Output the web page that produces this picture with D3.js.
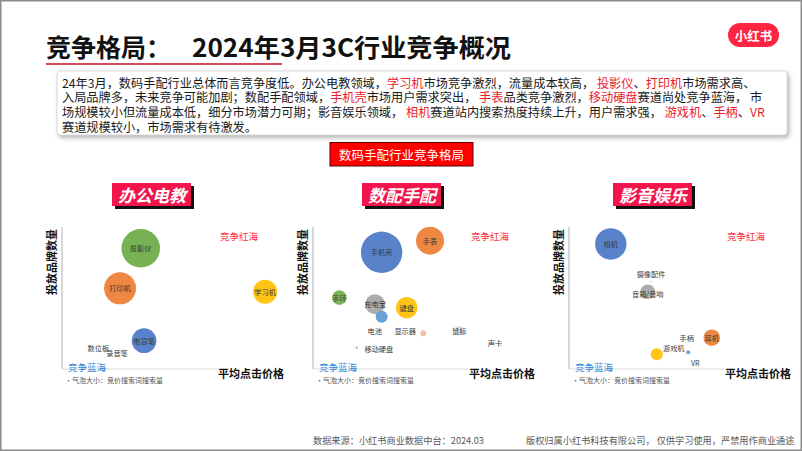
<!DOCTYPE html>
<html><head><meta charset="utf-8">
<script src="https://cdn.jsdelivr.net/npm/d3@7"></script>
<style>
body{margin:0;background:#fff}
svg{display:block;font-family:"Noto Sans CJK SC","Noto Sans",sans-serif}
</style></head>
<body><svg id="c" width="802" height="451"></svg>
<script>
// ---------------- data ----------------
const panelTitles = ["办公电教", "数配手配", "影音娱乐"];

const officeCategories = ["投影仪", "打印机", "学习机", "电容笔", "数位板", "录音笔"];
const officePrice      = [35.8, 26.4, 92.3, 37.3, 16.5, 25.0];
const officeBrands     = [85.6, 57.2, 54.8, 20.1, 14.7, 11.1];
const officeSearch     = [93, 64, 36, 38, 0.05, 0.05];

const digitalCategories = ["手机壳", "手表", "手环", "充电宝", "键盘", "电池", "显示器", "鼠标", "声卡", "移动硬盘"];
const digitalPrice      = [31.2, 53.2, 12.0, 28.2, 42.6, 31.2, 50.1, 66.5, 82.7, 19.9];
const digitalBrands     = [82.8, 91.0, 50.6, 45.9, 43.5, 37.1, 25.3, 27.0, 18.2, 15.1];
const digitalSearch     = [107, 49, 13.3, 25, 28.6, 9, 2.2, 6, 0.05, 0.3];

const avCategories = ["相机", "摄像配件", "音箱/音响", "耳机", "游戏机", "手柄", "VR"];
const avPrice      = [19.0, 37.3, 35.8, 64.9, 39.9, 53.5, 54.2];
const avBrands     = [88.7, 61.9, 54.8, 22.2, 10.4, 21.8, 11.8];
const avSearch     = [61.6, 0.1, 13.3, 17.2, 9, 0.02, 1];

const yAxisLabel = "投放品牌数量";
const xAxisLabel = "平均点击价格";
const redSeaLabel = "竞争红海";
const blueSeaLabel = "竞争蓝海";
const bubbleNote = "•气泡大小：竞价搜索词搜索量";

const summaryLines = [
  "24年3月，数码手配行业总体而言竞争度低。办公电教领域，[学习机]市场竞争激烈，流量成本较高， [投影仪]、[打印机]市场需求高、",
  "入局品牌多，未来竞争可能加剧；数配手配领域，[手机壳]市场用户需求突出， [手表]品类竞争激烈，[移动硬盘]赛道尚处竞争蓝海， 市",
  "场规模较小但流量成本低，细分市场潜力可期；影音娱乐领域， [相机]赛道站内搜索热度持续上升，用户需求强， [游戏机]、[手柄]、[VR]",
  "赛道规模较小，市场需求有待激发。"
];

// ---------------- styles ----------------
const bubbleColors = {
  "投影仪": "#6aaa45", "打印机": "#ed7d31", "学习机": "#ffc000", "电容笔": "#4a78c6",
  "数位板": "#5b9bd5", "录音笔": "#a5a5a5",
  "手机壳": "#4a78c6", "手表": "#ed7d31", "手环": "#70ad47", "充电宝": "#a5a5a5",
  "键盘": "#ffc000", "电池": "#5b9bd5", "显示器": "#f4b9a0", "鼠标": "#d8dff0",
  "声卡": "#cccccc", "移动硬盘": "#a5a5a5",
  "相机": "#4a78c6", "摄像配件": "#a5a5a5", "音箱/音响": "#a5a5a5", "耳机": "#ed7d31",
  "游戏机": "#ffc000", "手柄": "#5b9bd5", "VR": "#5b9bd5"
};
const labelOffsets = {
  "电池": [-7, 14], "显示器": [-18, -2], "移动硬盘": [22, 1],
  "摄像配件": [0, -8], "音箱/音响": [0, 2], "游戏机": [17, -6], "VR": [7, 11]
};

const svg = d3.select("#c");
const defs = svg.append("defs");
const f = defs.append("filter").attr("id", "sh").attr("x", "-5%").attr("y", "-20%").attr("width", "112%").attr("height", "150%");
f.append("feDropShadow").attr("dx", 2).attr("dy", 2.5).attr("stdDeviation", 2)
  .attr("flood-color", "#777").attr("flood-opacity", 0.55);

// page frame
svg.append("rect").attr("x", 0.75).attr("y", 0.75).attr("width", 800.5).attr("height", 449.5)
  .attr("fill", "none").attr("stroke", "#8c8c8c").attr("stroke-width", 1.5);

// title
svg.append("text").attr("x", 46).attr("y", 57).attr("font-size", 25).attr("font-weight", 700)
  .attr("fill", "#111").text("竞争格局：");
svg.append("text").attr("x", 192).attr("y", 57).attr("font-size", 25).attr("font-weight", 700)
  .attr("fill", "#111").attr("textLength", 319).attr("lengthAdjust", "spacingAndGlyphs")
  .text("2024年3月3C行业竞争概况");
svg.append("line").attr("x1", 46).attr("x2", 282).attr("y1", 64).attr("y2", 64)
  .attr("stroke", "#d9475c").attr("stroke-width", 2);

// logo
svg.append("rect").attr("x", 728).attr("y", 23).attr("width", 51).attr("height", 24).attr("rx", 12)
  .attr("fill", "#ff2442");
svg.append("text").attr("x", 753.5).attr("y", 35).attr("text-anchor", "middle")
  .attr("dominant-baseline", "central").attr("font-size", 12.5).attr("font-weight", 700)
  .attr("fill", "#fff").text("小红书");

// summary box
svg.append("rect").attr("x", 57).attr("y", 71).attr("width", 730).attr("height", 64).attr("rx", 3)
  .attr("fill", "#fff").attr("stroke", "#cfcfcf").attr("stroke-width", 0.8).attr("filter", "url(#sh)");
summaryLines.forEach((line, i) => {
  let cx = 62;
  const yy = 87.5 + i * 14.8;
  line.split(/(\[[^\]]+\])/).filter(s => s.length).forEach(seg => {
    const red = seg.startsWith("[");
    const t = svg.append("text").attr("x", cx).attr("y", yy)
      .attr("font-size", 12.2).style("white-space", "pre")
      .attr("fill", red ? "#ea1c2c" : "#1a1a1a")
      .text(red ? seg.slice(1, -1) : seg);
    cx += t.node().getComputedTextLength();
  });
});

// center red label
svg.append("rect").attr("x", 330).attr("y", 142.5).attr("width", 143).attr("height", 23.5)
  .attr("fill", "#ff0000").attr("stroke", "#5a0000").attr("stroke-width", 1);
svg.append("text").attr("x", 401.5).attr("y", 154.5).attr("text-anchor", "middle")
  .attr("dominant-baseline", "central").attr("font-size", 12.5).attr("fill", "#fff")
  .text("数码手配行业竞争格局");

// ---------------- panels ----------------
const panels = [
  {ox: 62,  hx: 112, cats: officeCategories,  px: officePrice,  py: officeBrands,  ps: officeSearch},
  {ox: 313, hx: 362, cats: digitalCategories, px: digitalPrice, py: digitalBrands, ps: digitalSearch},
  {ox: 569, hx: 613, cats: avCategories,      px: avPrice,      py: avBrands,      ps: avSearch}
];
const oy = 369, plotW = 220, plotTop = 228;
const r = d3.scaleSqrt().domain([0, 100]).range([0, 20]);

panels.forEach((p, pi) => {
  const g = svg.append("g");
  const x = d3.scaleLinear().domain([0, 100]).range([p.ox, p.ox + plotW]);
  const y = d3.scaleLinear().domain([0, 100]).range([oy, plotTop]);

  // header box with black shadow
  g.append("rect").attr("x", p.hx + 3).attr("y", 186).attr("width", 79).attr("height", 23).attr("fill", "#111");
  g.append("rect").attr("x", p.hx).attr("y", 183).attr("width", 79).attr("height", 23).attr("fill", "#f2144a");
  g.append("text").attr("x", p.hx + 40).attr("y", 194.5).attr("text-anchor", "middle")
    .attr("dominant-baseline", "central").attr("font-size", 17).attr("font-weight", 700)
    .attr("font-style", "italic").attr("fill", "#fff").text(panelTitles[pi]);

  // axes
  g.append("line").attr("x1", x(0)).attr("x2", x(0)).attr("y1", 227).attr("y2", oy)
    .attr("stroke", "#d4d4d4").attr("stroke-width", 1.8);
  g.append("line").attr("x1", x(0)).attr("x2", x(0) + 155).attr("y1", oy).attr("y2", oy)
    .attr("stroke", "#dcdcdc").attr("stroke-width", 1.2);

  g.append("text").attr("transform", `translate(${p.ox - 11},262) rotate(-90)`)
    .attr("text-anchor", "middle").attr("dominant-baseline", "central")
    .attr("font-size", 11).attr("font-weight", 700).attr("fill", "#111").text(yAxisLabel);
  g.append("text").attr("x", p.ox + 156).attr("y", 378).attr("font-size", 11)
    .attr("font-weight", 700).attr("fill", "#111").text(xAxisLabel);
  g.append("text").attr("x", p.ox + 158).attr("y", 239.5).attr("font-size", 9.5)
    .attr("fill", "#ff2d3a").text(redSeaLabel);
  g.append("text").attr("x", p.ox + 6).attr("y", 370.5).attr("font-size", 9.5)
    .attr("fill", "#2f86d6").text(blueSeaLabel);
  g.append("text").attr("x", p.ox + 3).attr("y", 383).attr("font-size", 7)
    .attr("fill", "#555").text(bubbleNote);

  const data = p.cats.map((c, i) => ({c, px: p.px[i], py: p.py[i], s: p.ps[i]}))
    .sort((a, b) => b.s - a.s);
  g.selectAll("circle.b").data(data).join("circle").attr("class", "b")
    .attr("cx", d => x(d.px)).attr("cy", d => y(d.py)).attr("r", d => r(d.s))
    .attr("fill", d => bubbleColors[d.c]).attr("fill-opacity", 0.92);
  g.selectAll("text.l").data(data).join("text").attr("class", "l")
    .attr("x", d => x(d.px) + (labelOffsets[d.c] || [0, 0])[0])
    .attr("y", d => y(d.py) + (labelOffsets[d.c] || [0, 0])[1])
    .attr("text-anchor", "middle").attr("dominant-baseline", "central")
    .attr("font-size", 7.2).attr("fill", "#3a3a3a").text(d => d.c);
});

// footer
svg.append("text").attr("x", 313).attr("y", 444).attr("font-size", 9.2).attr("fill", "#595959")
  .text("数据来源：小红书商业数据中台：2024.03");
svg.append("text").attr("x", 526).attr("y", 444).attr("font-size", 9.2).attr("fill", "#595959")
  .style("white-space", "pre").text("版权归属小红书科技有限公司， 仅供学习使用，严禁用作商业通途");
</script></body></html>
